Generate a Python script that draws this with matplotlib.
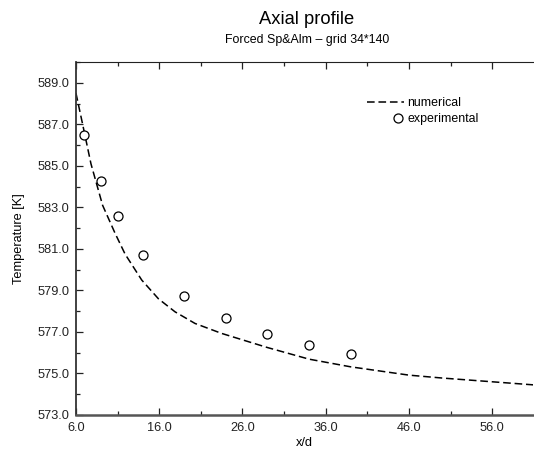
import numpy as np
import matplotlib
matplotlib.use("Agg")
import matplotlib.pyplot as plt
from matplotlib.ticker import MultipleLocator, FormatStrFormatter
from matplotlib.legend_handler import HandlerLine2D

plt.rcParams['font.family'] = ['Liberation Sans', 'DejaVu Sans']

# numerical profile
num_x = [6.0, 6.8, 7.8, 9.2, 10.7, 11.9, 13.9, 15.9, 17.9, 20.3, 23.5, 26.0,
         29.0, 34.0, 39.0, 46.0, 50.0, 56.0, 61.0]
num_t = [588.5, 587.0, 585.1, 583.1, 581.75, 580.75, 579.5, 578.6, 577.97, 577.41,
         576.93, 576.62, 576.25, 575.69, 575.32, 574.92, 574.78, 574.6, 574.45]

# experimental points
exp_x = [7, 9, 11, 14, 19, 24, 29, 34, 39]
exp_t = [586.5, 584.25, 582.6, 580.7, 578.75, 577.65, 576.9, 576.35, 575.95]


class RightMarker(HandlerLine2D):
    # put the legend marker at the right end of the handle box
    def get_xdata(self, legend, xdescent, ydescent, width, height, fontsize):
        m = width - xdescent - 4.0
        return np.array([m - 1.0, m + 1.0]), np.array([m])


fig = plt.figure(figsize=(5.34, 4.5), dpi=100)
ax = fig.add_axes([0.1423, 0.0778, 0.8557, 0.7842])

ax.plot(num_x, num_t, color='black', linestyle=(0, (5, 2.5)), lw=1.1, label='numerical')
pts, = ax.plot(exp_x, exp_t, linestyle='none', marker='o', markersize=6.5,
               markerfacecolor='white', markeredgecolor='black', markeredgewidth=0.9,
               label='experimental')

ax.set_xlim(6, 60.9)
ax.set_ylim(573, 590)
ax.xaxis.set_major_locator(MultipleLocator(10, offset=6))
ax.xaxis.set_minor_locator(MultipleLocator(5, offset=1))
ax.yaxis.set_major_locator(MultipleLocator(2, offset=1))
ax.yaxis.set_minor_locator(MultipleLocator(1))
ax.xaxis.set_major_formatter(FormatStrFormatter('%.1f'))
ax.yaxis.set_major_formatter(FormatStrFormatter('%.1f'))
ax.tick_params(which='both', direction='in', top=True, right=False, labelsize=9.2,
               colors='#222222', pad=5)
ax.tick_params(which='major', length=5, width=0.9)
ax.tick_params(which='minor', length=3, width=0.9)

ax.spines['right'].set_visible(False)
ax.spines['top'].set_color('#222222')
ax.spines['left'].set_color('#333333')
ax.spines['bottom'].set_color('#555555')
ax.spines['bottom'].set_linewidth(1.8)
ax.spines['left'].set_linewidth(1.3)

ax.set_xlabel('x/d', fontsize=9.2, labelpad=2)
ax.set_ylabel('Temperature [K]', fontsize=9.2, labelpad=9)

fig.text(0.575, 0.956, 'Axial profile', ha='center', va='center', fontsize=13.2)
fig.text(0.575, 0.911, 'Forced Sp&Alm \u2013 grid 34*140', ha='center', va='center', fontsize=8.9)

ax.legend(loc='upper left', bbox_to_anchor=(0.625, 0.915), frameon=False,
          fontsize=8.9, handlelength=3.0, handletextpad=0.3, labelspacing=0.35,
          borderaxespad=0, numpoints=1, handler_map={pts: RightMarker()})

fig.savefig('out.png', dpi=100)
